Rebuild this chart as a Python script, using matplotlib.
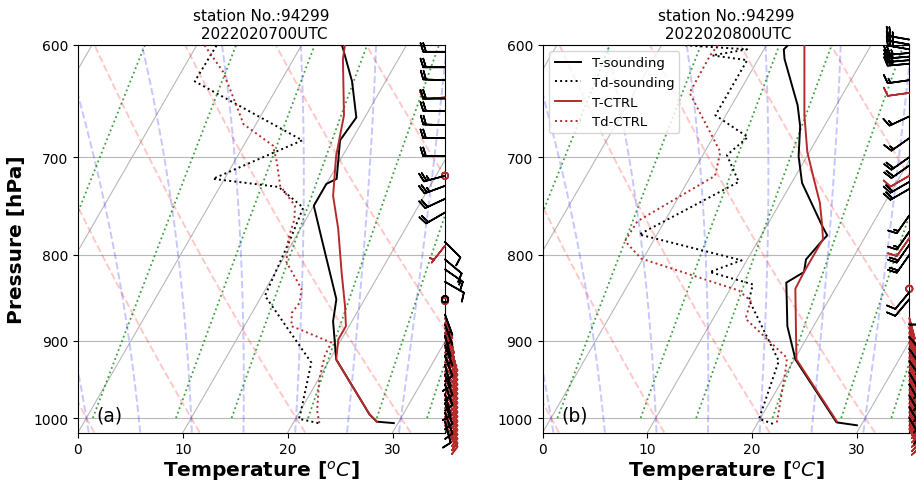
import numpy as np
import matplotlib
matplotlib.use("Agg")
import matplotlib.pyplot as plt
import matplotlib.transforms as mtransforms
from matplotlib.ticker import FixedLocator, NullLocator, ScalarFormatter

# ---- data (hPa, degC) ----
station = "94299"
times = ["2022020700UTC", "2022020800UTC"]
panel_tags = ["(a)", "(b)"]

# (a) 2022-02-07 00 UTC
p_snd_t_a = [1007, 1005, 995, 923, 876, 850, 783, 748, 726, 721, 684, 663, 631, 600]
t_snd_a = [29.6, 27.9, 26.8, 20.6, 18.2, 17.3, 12.6, 10.0, 10.0, 10.7, 8.9, 9.2, 6.8, 3.8]
p_snd_td_a = [1007, 1001, 995, 927, 846, 783, 750, 729, 721, 684, 631, 601]
td_snd_a = [22.4, 20.3, 20.2, 18.4, 10.3, 9.6, 9.1, 5.6, -1.1, 5.3, -8.2, -8.1]
p_ctl_t_a = [1005, 995, 923, 898, 882, 858, 819, 772, 738, 699, 661, 612, 600]
t_ctl_a = [27.9, 26.8, 20.6, 19.7, 19.7, 18.5, 16.3, 13.6, 11.3, 9.4, 7.9, 4.7, 4.1]
p_ctl_td_a = [1007, 990, 949, 918, 902, 886, 882, 866, 854, 838, 808, 783, 762,
              748, 728, 705, 689, 669, 657, 623, 601]
td_ctl_a = [22.5, 21.6, 20.1, 19.3, 19.2, 15.5, 14.5, 13.8, 14.0, 13.4, 10.5, 9.4, 8.9,
            8.2, 5.7, 4.1, 2.8, -1.2, -2.4, -6.0, -9.2]

# (b) 2022-02-08 00 UTC
p_snd_t_b = [1010, 1006, 923, 882, 831, 819, 805, 785, 779, 769, 725, 699, 671, 652, 612, 604, 600]
t_snd_b = [29.6, 27.5, 20.1, 17.5, 15.0, 16.1, 15.6, 16.1, 16.3, 15.3, 11.0, 9.2, 7.7, 6.3, 2.5, 1.9, 2.1]
p_snd_td_b = [1008, 1001, 925, 851, 833, 819, 806, 778, 724, 698, 681, 661, 613, 609, 604, 600]
td_snd_b = [21.5, 19.9, 18.6, 12.4, 11.9, 7.1, 9.5, -1.7, 4.9, 2.3, 3.3, -1.0, -1.0, -4.6, -1.6, -8.9]
p_ctl_t_b = [1005, 923, 886, 838, 819, 783, 769, 745, 721, 695, 661, 600]
t_ctl_b = [27.5, 20.2, 18.5, 16.2, 16.1, 16.1, 15.3, 13.8, 11.9, 9.8, 7.5, 3.6]
p_ctl_td_b = [1006, 935, 921, 873, 852, 840, 804, 785, 764, 718, 695, 641, 609, 600]
td_ctl_b = [21.8, 19.7, 19.2, 13.1, 12.6, 10.9, -0.2, -2.7, -2.6, 2.3, 1.5, -4.7, -4.8, -4.6]

# ---- winds (hPa, direction deg, speed kt) ----
p_wnd_snd_a = [606, 619, 630, 646, 657, 670, 682, 699, 718, 728, 741, 755,
               786, 805, 816, 830, 850, 868, 880, 893, 905, 918, 930, 942, 955, 968, 980, 993, 1005]
dir_snd_a = [270, 270, 272, 270, 270, 272, 270, 270, 255, 250, 245, 240,
             135, 130, 125, 120, 0, 160, 160, 165, 160, 160, 165, 160, 160, 165, 160, 160, 165]
spd_snd_a = [20, 20, 20, 20, 20, 20, 20, 20, 25, 25, 20, 20,
             10, 10, 15, 10, 0, 5, 5, 5, 5, 10, 10, 10, 10, 10, 10, 10, 10]
p_wnd_ctl_a = [645, 718, 790, 852, 872, 878, 884, 890, 896, 902, 908, 914, 920, 926, 932, 938,
               944, 950, 956, 962, 968, 974, 980, 986, 992, 998, 1004, 1010, 1015]
dir_ctl_a = [265, 0, 218, 0, 160, 160, 158, 155, 155, 152, 148, 145, 145, 145, 145, 145,
             145, 145, 145, 145, 145, 145, 145, 145, 145, 145, 145, 145, 145]
spd_ctl_a = [10, 0, 5, 0, 5, 5, 5, 10, 10, 10, 15, 15, 15, 15, 15, 15,
             15, 15, 15, 15, 15, 15, 15, 15, 15, 15, 15, 15, 15]

p_wnd_snd_b = [596, 600, 604, 607, 610, 613, 616, 630, 662, 682, 700, 708, 724, 731,
               758, 775, 789, 800, 842, 850, 880, 895, 910, 925, 940, 955, 970, 985, 1000]
dir_snd_b = [280, 280, 280, 265, 265, 265, 265, 262, 245, 235, 235, 235, 240, 240,
             215, 215, 215, 215, 220, 220, 90, 140, 145, 145, 150, 150, 150, 150, 150]
spd_snd_b = [25, 25, 25, 25, 25, 25, 25, 15, 15, 15, 20, 20, 20, 20,
             15, 15, 20, 20, 10, 10, 5, 10, 10, 10, 10, 10, 10, 10, 10]
p_wnd_ctl_b = [641, 718, 782, 838, 872, 878, 884, 890, 896, 902, 908, 914, 920, 926, 932, 938,
               944, 950, 956, 962, 968, 974, 980, 986, 992, 998, 1004, 1010, 1015]
dir_ctl_b = [262, 240, 215, 0, 165, 165, 160, 160, 158, 158, 155, 155, 155, 155, 155, 155,
             155, 155, 155, 155, 155, 155, 155, 155, 155, 155, 155, 155, 155]
spd_ctl_b = [10, 10, 10, 0, 5, 5, 10, 10, 10, 10, 15, 15, 15, 15, 15, 15,
             15, 15, 15, 15, 15, 15, 15, 15, 15, 15, 15, 15, 15]

P_TOP, P_BOT = 600.0, 1020.0
T_MIN, T_MAX = 0.0, 35.0
RED = "#b52a2a"

RD, CP, LV, EPS = 287.04749, 1004.6662, 2.50084e6, 0.6219569


def dtdp(p, t):
    es = 6.112 * np.exp(17.67 * (t - 273.15) / (t - 29.65))
    rs = EPS * es / (p - es)
    return (RD * t + LV * rs) / (CP + LV * LV * rs * EPS / (RD * t * t)) / p


def moist_adiabat(t0, pres):
    # RK4 along pres, starting from pres[0]
    t = [np.asarray(t0, float) + 273.15]
    for i in range(1, len(pres)):
        h = pres[i] - pres[i - 1]
        p, T = pres[i - 1], t[-1]
        k1 = dtdp(p, T)
        k2 = dtdp(p + h / 2, T + h * k1 / 2)
        k3 = dtdp(p + h / 2, T + h * k2 / 2)
        k4 = dtdp(p + h, T + h * k3)
        t.append(T + h * (k1 + 2 * k2 + 2 * k3 + k4) / 6)
    return np.array(t) - 273.15


def make_skew(ax, fig):
    bb = ax.get_position()
    w = bb.width * fig.get_figwidth()
    h = bb.height * fig.get_figheight()
    k = np.tan(np.radians(30)) * (T_MAX - T_MIN) * h / w

    def skew(t, p):
        p = np.asarray(p, float)
        return np.asarray(t, float) + k * np.log(P_BOT / p) / np.log(P_BOT / P_TOP)
    return skew


def uv(dirs, spds):
    d = np.radians(dirs)
    s = np.asarray(spds, float)
    return -s * np.sin(d), -s * np.cos(d)


def draw_panel(ax, fig, tag, time, snd_t, snd_td, ctl_t, ctl_td, wnd_snd, wnd_ctl, legend):
    skew = make_skew(ax, fig)
    ax.set_yscale("log")
    ax.set_ylim(P_BOT, P_TOP)
    ax.set_xlim(T_MIN, T_MAX)

    pp = np.linspace(P_BOT, P_TOP, 200)
    # isotherms
    for t0 in range(-60, 40, 10):
        ax.plot(skew(np.full_like(pp, t0), pp), pp, color="#b8b8b8", lw=0.8, zorder=1)
    for p0 in [600, 700, 800, 900, 1000]:
        ax.axhline(p0, color="#b8b8b8", lw=0.8, zorder=1)
    # dry adiabats
    for t0 in range(-60, 110, 10):
        t = (t0 + 273.15) * (pp / 1000.0) ** (RD / CP) - 273.15
        ax.plot(skew(t, pp), pp, color="r", ls="--", lw=1.4, alpha=0.22, zorder=1)
    # moist adiabats from 1000 hPa
    t0s = np.arange(-40, 46, 5)
    p_up = np.arange(1000.0, 599.0, -2.0)
    p_dn = np.arange(1000.0, 1021.0, 2.0)
    m_up = moist_adiabat(t0s, p_up)
    m_dn = moist_adiabat(t0s, p_dn)
    for i in range(len(t0s)):
        pm = np.concatenate([p_dn[::-1], p_up[1:]])
        tm = np.concatenate([m_dn[::-1, i], m_up[1:, i]])
        ax.plot(skew(tm, pm), pm, color="b", ls="--", lw=1.4, alpha=0.22, zorder=1)
    # mixing ratio lines
    pw = np.linspace(1000, 600, 50)
    for w in [0.0004, 0.001, 0.002, 0.004, 0.007, 0.01, 0.016, 0.024, 0.032]:
        e = pw * w / (EPS + w)
        ln = np.log(e / 6.112)
        td = 243.5 * ln / (17.67 - ln)
        ax.plot(skew(td, pw), pw, color="g", ls=":", lw=1.3, alpha=0.75, zorder=1)

    ax.plot(skew(snd_t[1], snd_t[0]), snd_t[0], color="k", lw=1.4, label="T-sounding", zorder=5)
    ax.plot(skew(snd_td[1], snd_td[0]), snd_td[0], color="k", ls=":", lw=1.4, label="Td-sounding", zorder=5)
    ax.plot(skew(ctl_t[1], ctl_t[0]), ctl_t[0], color=RED, lw=1.4, label="T-CTRL", zorder=5)
    ax.plot(skew(ctl_td[1], ctl_td[0]), ctl_td[0], color=RED, ls=":", lw=1.4, label="Td-CTRL", zorder=5)

    trans = mtransforms.blended_transform_factory(ax.transAxes, ax.transData)
    for (pw_, d_, s_), col in [(wnd_ctl, RED), (wnd_snd, "k")]:
        u, v = uv(d_, s_)
        ax.barbs(np.ones(len(pw_)), pw_, u, v, transform=trans, clip_on=False,
                 color=col, length=5.6, lw=1.2, zorder=6)

    ax.yaxis.set_major_locator(FixedLocator([600, 700, 800, 900, 1000]))
    ax.yaxis.set_major_formatter(ScalarFormatter())
    ax.yaxis.set_minor_locator(NullLocator())
    ax.set_xticks([0, 10, 20, 30])
    ax.tick_params(labelsize=10)
    ax.set_xlabel("Temperature [$^oC$]", fontsize=14.5, fontweight="bold", labelpad=1)
    ax.set_title("station No.:" + station + "\n " + time, fontsize=11, pad=5)
    ax.text(0.05, 0.03, tag, transform=ax.transAxes, fontsize=13.5, zorder=7)
    if legend:
        ax.legend(loc="upper left", fontsize=9.5)


fig = plt.figure(figsize=(9.16, 4.81), dpi=100)
ax1 = fig.add_axes([78 / 916, 1 - 433.5 / 481, 367 / 916, 388 / 481])
ax2 = fig.add_axes([542.7 / 916, 1 - 433.5 / 481, 366.6 / 916, 388 / 481])

draw_panel(ax1, fig, panel_tags[0], times[0],
           (p_snd_t_a, t_snd_a), (p_snd_td_a, td_snd_a),
           (p_ctl_t_a, t_ctl_a), (p_ctl_td_a, td_ctl_a),
           (p_wnd_snd_a, dir_snd_a, spd_snd_a), (p_wnd_ctl_a, dir_ctl_a, spd_ctl_a), False)
draw_panel(ax2, fig, panel_tags[1], times[1],
           (p_snd_t_b, t_snd_b), (p_snd_td_b, td_snd_b),
           (p_ctl_t_b, t_ctl_b), (p_ctl_td_b, td_ctl_b),
           (p_wnd_snd_b, dir_snd_b, spd_snd_b), (p_wnd_ctl_b, dir_ctl_b, spd_ctl_b), True)
ax1.set_ylabel("Pressure [hPa]", fontsize=14.5, fontweight="bold", labelpad=5)

fig.savefig("out.png", dpi=100)
